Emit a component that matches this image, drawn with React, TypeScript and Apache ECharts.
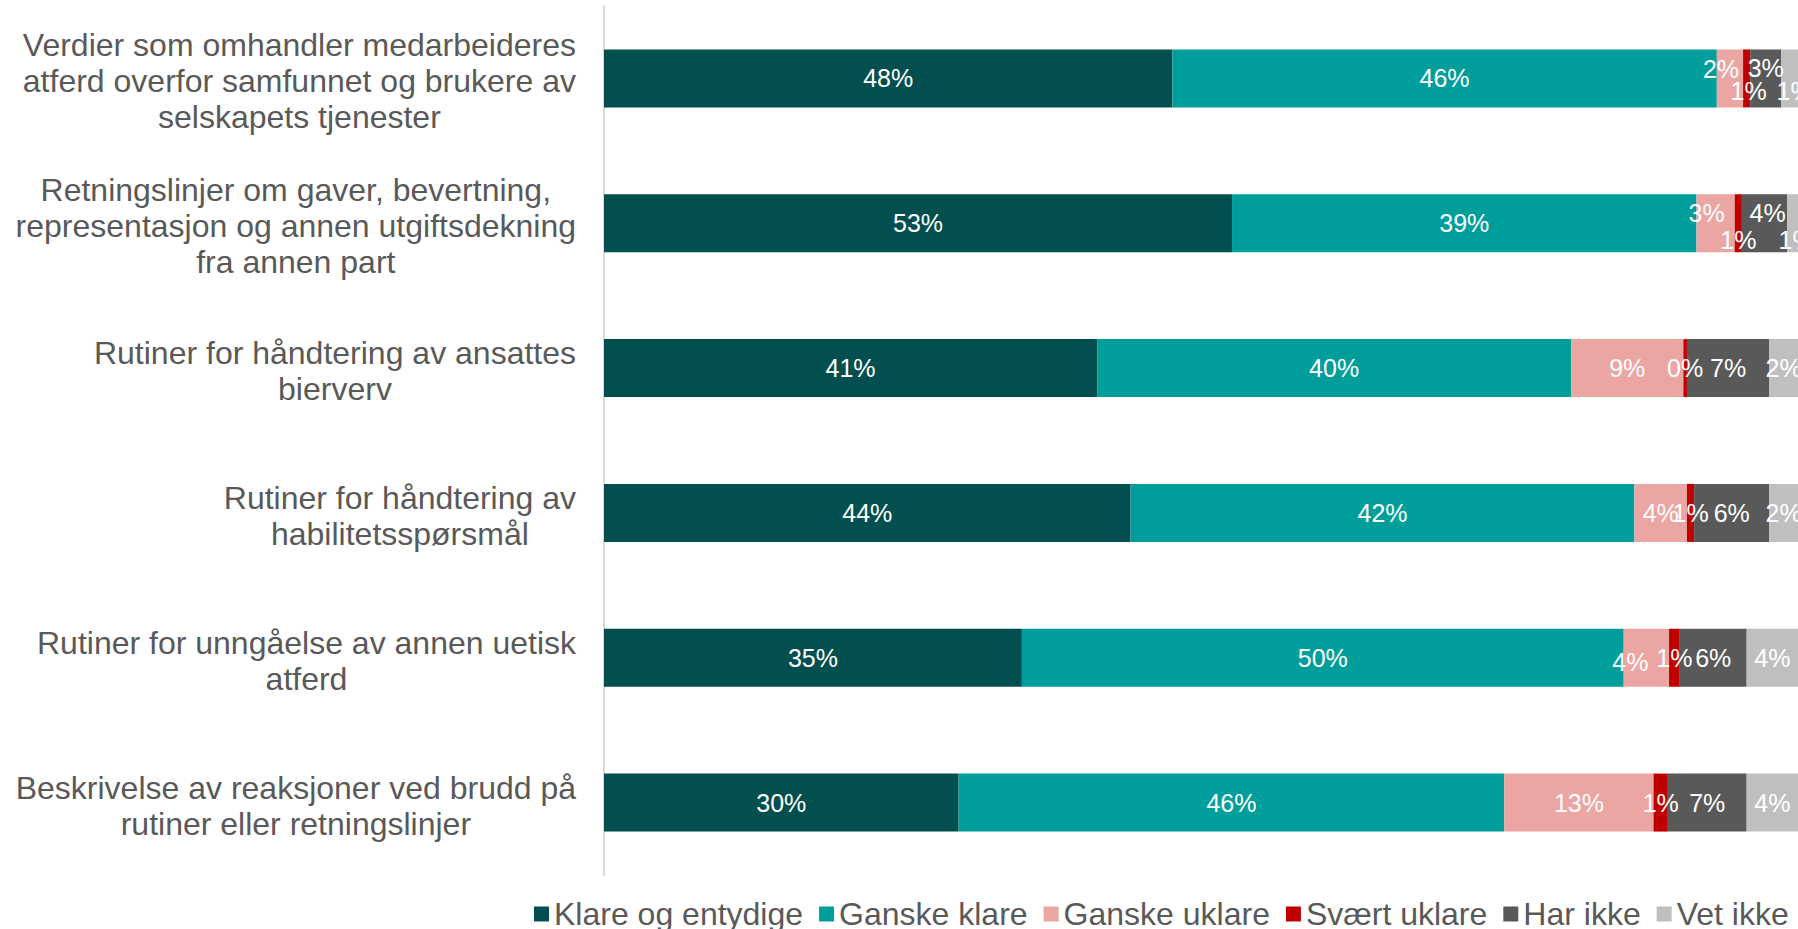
import React, { useEffect, useRef } from "react";
import * as echarts from "echarts";

const categories = [
  "Verdier som omhandler medarbeideres\natferd overfor samfunnet og brukere av\nselskapets tjenester",
  "Retningslinjer om gaver, bevertning,\nrepresentasjon og annen utgiftsdekning\nfra annen part",
  "Rutiner for håndtering av ansattes\nbierverv",
  "Rutiner for håndtering av\nhabilitetsspørsmål",
  "Rutiner for unngåelse av annen uetisk\natferd",
  "Beskrivelse av reaksjoner ved brudd på\nrutiner eller retningslinjer",
];

const seriesNames = [
  "Klare og entydige",
  "Ganske klare",
  "Ganske uklare",
  "Svært uklare",
  "Har ikke",
  "Vet ikke",
];

const klareOgEntydige = [47.6, 52.6, 41.3, 44.1, 35.0, 29.7];
const ganskeKlare = [45.6, 38.9, 39.7, 42.2, 50.4, 45.7];
const ganskeUklare = [2.2, 3.2, 9.4, 4.4, 3.8, 12.5];
const svaertUklare = [0.6, 0.6, 0.3, 0.6, 0.9, 1.2];
const harIkke = [2.6, 3.8, 6.9, 6.3, 5.6, 6.6];
const vetIkke = [1.4, 1.2, 2.4, 2.4, 4.3, 4.3];

const seriesValues = [klareOgEntydige, ganskeKlare, ganskeUklare, svaertUklare, harIkke, vetIkke];

const colors = ["#034f4f", "#009e9a", "#eba5a2", "#c00000", "#595959", "#bfbfbf"];

// manual label nudges (series index -> row index -> [dx, dy])
const labelOffsets: Record<number, Record<number, [number, number]>> = {
  2: { 0: [-9, -9], 1: [-9, -10], 4: [-16, 4] },
  3: { 0: [2, 13], 1: [0, 17] },
  4: { 0: [0, -10], 1: [3, -10] },
  5: { 0: [5, 13], 1: [4, 17] },
};

const FONT = "'Liberation Sans', Arial, sans-serif";

export default function App() {
  const ref = useRef<HTMLDivElement>(null);

  useEffect(() => {
    if (!ref.current) return;
    const chart = echarts.init(ref.current, undefined, { renderer: "svg" });

    const series = seriesValues.map((vals, si) => ({
      name: seriesNames[si],
      type: "bar",
      stack: "total",
      barWidth: 58,
      itemStyle: { color: colors[si] },
      label: {
        show: true,
        position: "inside",
        color: "#ffffff",
        fontSize: 25,
        fontFamily: FONT,
        formatter: (p: any) => `${Math.round(p.value)}%`,
      },
      data: vals.map((v, ri) => {
        const off = labelOffsets[si] && labelOffsets[si][ri];
        return off ? { value: v, label: { offset: off } } : { value: v };
      }),
    }));

    chart.setOption({
      animation: false,
      textStyle: { fontFamily: FONT },
      grid: { left: 604, right: -1, top: 6, bottom: 54, containLabel: false },
      xAxis: {
        type: "value",
        min: 0,
        max: 100,
        show: false,
        splitLine: { show: false },
      },
      yAxis: {
        type: "category",
        inverse: true,
        data: categories,
        axisTick: { show: false },
        axisLine: { show: true, lineStyle: { color: "#d9d9d9", width: 2 } },
        axisLabel: {
          margin: 28,
          align: "right",
          padding: [6, 0, 0, 0],
          formatter: (v: string) =>
            v
              .split("\n")
              .map((l) => `{c|${l}}`)
              .join("\n"),
          rich: {
            c: {
              align: "center",
              fontSize: 32,
              lineHeight: 36,
              color: "#595959",
              fontFamily: FONT,
            },
          },
        },
      },
      legend: {
        left: 529,
        top: 893,
        icon: "rect",
        itemWidth: 15,
        itemHeight: 15,
        itemGap: 16,
        textStyle: { fontSize: 32, color: "#595959", fontFamily: FONT },
        data: seriesNames,
      },
      series,
    });

    return () => chart.dispose();
  }, []);

  return (
    <div
      style={{
        position: "fixed",
        left: 0,
        top: 0,
        width: 1798,
        height: 929,
        overflow: "hidden",
        background: "#ffffff",
      }}
    >
      <div ref={ref} style={{ width: 1798, height: 929 }} />
    </div>
  );
}
